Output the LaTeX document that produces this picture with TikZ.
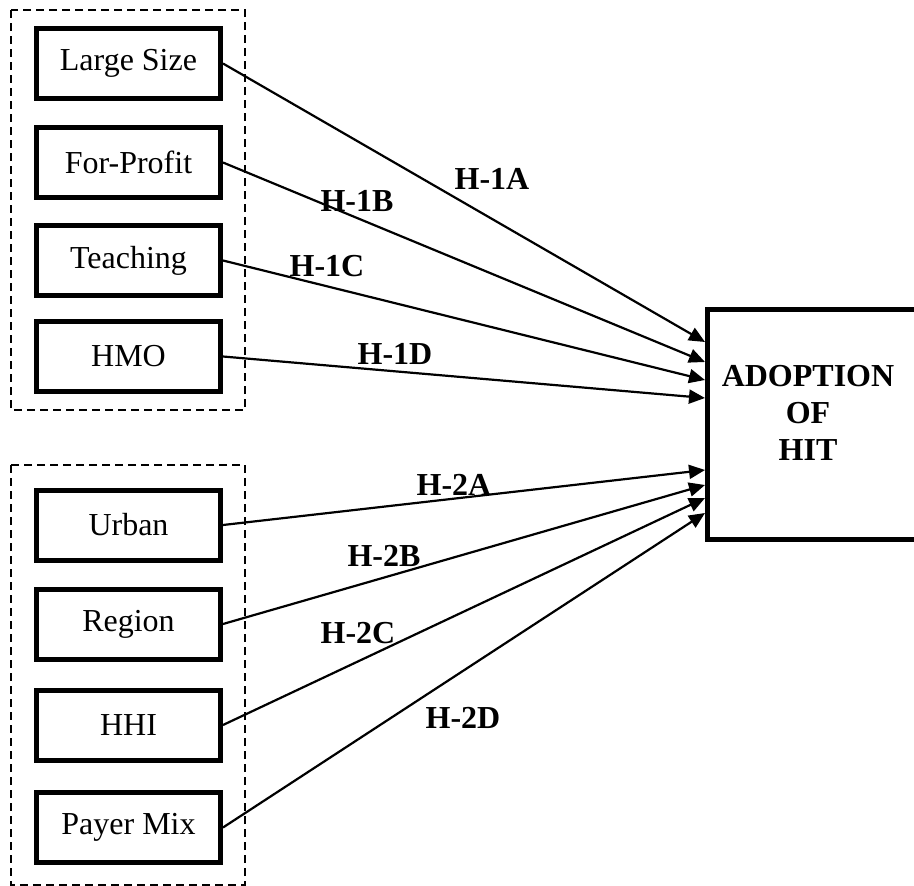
\documentclass[tikz,border=0pt]{standalone}
\usepackage{fontspec}
\setmainfont{Liberation Serif}
\usetikzlibrary{arrows.meta}
\tikzset{
  factor/.style={draw, line width=5pt, minimum width=184pt, minimum height=70pt, inner sep=0pt,
    font=\fontsize{32}{37}\selectfont},
  groupbox/.style={draw, line width=1.5pt, dash pattern=on 8pt off 5pt},
  hyp/.style={font=\fontsize{32}{37}\selectfont\bfseries, inner sep=0pt},
  link/.style={line width=2.2pt, -{Triangle[length=16pt,width=14pt]}},
}
\begin{document}
\begin{tikzpicture}[x=1pt,y=-1pt]
\useasboundingbox (0,0) rectangle (914,886);
\begin{scope}
\clip (0,0) rectangle (914,886);
% groups
\draw[groupbox] (11,10) rectangle (245,410);
\draw[groupbox] (11,465) rectangle (245,885);
% factor boxes
\node[factor] (ls) at (128.5,63.5) {Large Size};
\node[factor] (fp) at (128.5,162.5) {For-Profit};
\node[factor] (te) at (128.5,260.5) {Teaching};
\node[factor] (hm) at (128.5,356.5) {HMO};
\node[factor] (ur) at (128.5,525) {Urban};
\node[factor] (re) at (128.5,624) {Region};
\node[factor] (hh) at (128.5,725) {HHI};
\node[factor] (pm) at (128.5,827.5) {Payer Mix};
% outcome box
\node[draw, line width=5pt, minimum width=222.5pt, minimum height=230pt, inner sep=0pt] (hit) at (818.75,424.5) {};
\node[align=center, font=\fontsize{32}{37}\selectfont\bfseries, inner sep=0pt] (hittext) at (808,413) {ADOPTION\\OF\\HIT};
% targets
\coordinate (t1) at (705,342);
\coordinate (t2) at (705,362);
\coordinate (t3) at (705,380);
\coordinate (t4) at (705,398);
\coordinate (t5) at (705,470);
\coordinate (t6) at (705,485);
\coordinate (t7) at (705,498);
\coordinate (t8) at (705,513);
\draw[link] (ls.east) -- (t1);
\draw[link] (fp.east) -- (t2);
\draw[link] (te.east) -- (t3);
\draw[link] (hm.east) -- (t4);
\draw[link] (ur.east) -- (t5);
\draw[link] (re.east) -- (t6);
\draw[link] (hh.east) -- (t7);
\draw[link] (pm.east) -- (t8);
% labels
\node[hyp] (h1a) at (492,179) {H-1A};
\node[hyp] (h1b) at (357,201) {H-1B};
\node[hyp] (h1c) at (327,266) {H-1C};
\node[hyp] (h1d) at (395,354) {H-1D};
\node[hyp] (h2a) at (454,485) {H-2A};
\node[hyp] (h2b) at (384,556) {H-2B};
\node[hyp] (h2c) at (358,633) {H-2C};
\node[hyp] (h2d) at (463,718) {H-2D};
\end{scope}
\end{tikzpicture}
\end{document}
